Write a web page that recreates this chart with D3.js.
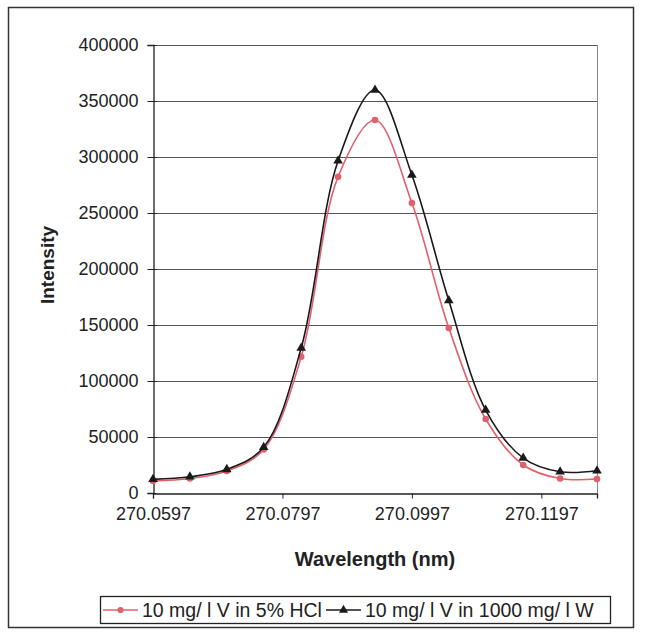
<!DOCTYPE html>
<html>
<head>
<meta charset="utf-8">
<script src="https://cdn.jsdelivr.net/npm/d3@7"></script>
<style>
  body { margin: 0; background: #fff; }
  text { font-family: "Liberation Sans", Arial, sans-serif; fill: #222; }
</style>
</head>
<body>
<div id="chart"></div>
<script>
// wavelength values (nm)
const wavelength = [270.0597, 270.0654, 270.0711, 270.0768, 270.0826, 270.0883, 270.0940,
                    270.0997, 270.1054, 270.1111, 270.1169, 270.1226, 270.1283]
// 10 mg/l V in 5% HCl
const hclSeries = [10700, 12900, 19600, 38800, 121700, 282400, 333000, 258900, 147300, 66100, 25000, 12900, 12500]
// 10 mg/l V in 1000 mg/l W
const wSeries = [12200, 14500, 21100, 40800, 129500, 296700, 359800, 283900, 171900, 74100, 31200, 19000, 19900]

const yTicks = [0, 50000, 100000, 150000, 200000, 250000, 300000, 350000, 400000]
const xTicks = [270.0597, 270.0797, 270.0997, 270.1197]
const legendLabels = ["10 mg/ l V in 5% HCl", "10 mg/ l V in 1000 mg/ l W"]

const width = 653, height = 634
const plot = {left: 153, right: 597, top: 45, bottom: 493}

const svg = d3.select("#chart").append("svg")
    .attr("width", width)
    .attr("height", height)

// outer frame
svg.append("rect")
    .attr("x", 8.5).attr("y", 7.5)
    .attr("width", 625).attr("height", 620)
    .attr("fill", "none").attr("stroke", "#333").attr("stroke-width", 1.5)

let x = d3.scaleLinear().domain([270.0597, 270.1283]).range([plot.left, plot.right])
let y = d3.scaleLinear().domain([0, 400000]).range([plot.bottom, plot.top])

// grid lines
svg.append("g").selectAll("line")
    .data(yTicks.filter(d => d > 0))
    .enter().append("line")
    .attr("x1", plot.left).attr("x2", plot.right)
    .attr("y1", d => y(d) + 0.5).attr("y2", d => y(d) + 0.5)
    .attr("stroke", "#555").attr("stroke-width", 1)

// right border of plot area
svg.append("line")
    .attr("x1", plot.right + 0.5).attr("x2", plot.right + 0.5)
    .attr("y1", plot.top).attr("y2", plot.bottom)
    .attr("stroke", "#888")

// y axis
let yAxis = d3.axisLeft(y).tickValues(yTicks).tickSize(6).tickPadding(9)
    .tickFormat(d3.format("d"))
let gy = svg.append("g")
    .attr("transform", `translate(${plot.left + 0.5},0)`)
    .call(yAxis)
gy.select(".domain").attr("stroke", "#222").attr("stroke-width", 1.3)
gy.selectAll(".tick line").attr("stroke", "#222").attr("x2", -6).attr("x1", 3)
gy.selectAll(".tick text").style("font-size", "18px").attr("fill", "#333")

// x axis
let xAxis = d3.axisBottom(x).tickValues(xTicks).tickSize(5).tickPadding(9)
    .tickFormat(d3.format(".4f"))
let gx = svg.append("g")
    .attr("transform", `translate(0,${plot.bottom + 0.5})`)
    .call(xAxis)
gx.select(".domain").attr("stroke", "#222").attr("stroke-width", 1.3)
gx.selectAll(".tick line").attr("stroke", "#222")
gx.selectAll(".tick text").style("font-size", "18px").attr("fill", "#333")

// axis titles
svg.append("text")
    .attr("x", (plot.left + plot.right) / 2).attr("y", 566)
    .attr("text-anchor", "middle")
    .style("font-size", "20px").style("font-weight", "bold")
    .text("Wavelength (nm)")

svg.append("text")
    .attr("transform", `translate(54,${(plot.top + plot.bottom) / 2 - 4}) rotate(-90)`)
    .attr("text-anchor", "middle")
    .style("font-size", "19px").style("font-weight", "bold")
    .text("Intensity")

// lines
const line = d3.line()
    .x(d => x(d[0]))
    .y(d => y(d[1]))
    .curve(d3.curveCatmullRom.alpha(0.5))

const series = [
    {name: legendLabels[0], values: hclSeries, color: "#e0606c", marker: "circle"},
    {name: legendLabels[1], values: wSeries, color: "#1a1a1a", marker: "triangle"}
]

series.forEach(function(s) {
    let pts = wavelength.map((w, i) => [w, s.values[i]])
    svg.append("path")
        .datum(pts)
        .attr("d", line)
        .attr("fill", "none")
        .attr("stroke", s.color)
        .attr("stroke-width", 1.6)

    let sym = s.marker == "circle" ? d3.symbolCircle : d3.symbolTriangle
    svg.append("g").selectAll("path")
        .data(pts)
        .enter().append("path")
        .attr("d", d3.symbol().type(sym).size(s.marker == "circle" ? 34 : 40))
        .attr("transform", d => `translate(${x(d[0])},${y(d[1])})`)
        .attr("fill", s.color)
})

// legend
let legend = svg.append("g")
legend.append("rect")
    .attr("x", 100.5).attr("y", 596.5)
    .attr("width", 510).attr("height", 27)
    .attr("fill", "#fff").attr("stroke", "#222").attr("stroke-width", 1.3)

const legendX = [103, 326]
series.forEach(function(s, i) {
    let lx = legendX[i]
    legend.append("line")
        .attr("x1", lx).attr("x2", lx + 35)
        .attr("y1", 610).attr("y2", 610)
        .attr("stroke", s.color).attr("stroke-width", 1.5)
    let sym = s.marker == "circle" ? d3.symbolCircle : d3.symbolTriangle
    legend.append("path")
        .attr("d", d3.symbol().type(sym).size(s.marker == "circle" ? 30 : 36))
        .attr("transform", `translate(${lx + 17.5},610)`)
        .attr("fill", s.color)
    legend.append("text")
        .attr("x", lx + 39).attr("y", 617)
        .style("font-size", "19.5px")
        .text(s.name)
})
</script>
</body>
</html>
